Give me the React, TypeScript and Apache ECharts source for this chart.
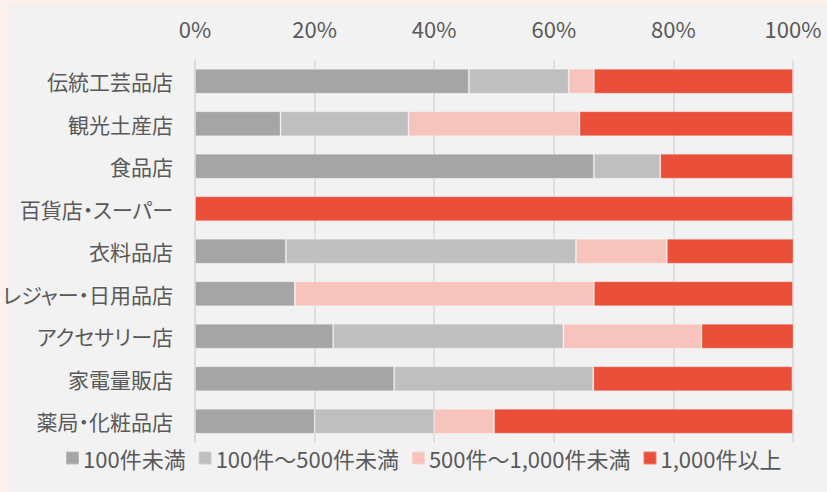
import React, { useEffect, useRef } from "react";
import * as echarts from "echarts";

const categories = [
  "伝統工芸品店",
  "観光土産店",
  "食品店",
  "百貨店・スーパー",
  "衣料品店",
  "レジャー・日用品店",
  "アクセサリー店",
  "家電量販店",
  "薬局・化粧品店",
];

const seriesNames = ["100件未満", "100件～500件未満", "500件～1,000件未満", "1,000件以上"];

const under100 = [45.8, 14.3, 66.7, 0, 15.2, 16.7, 23.1, 33.3, 20];
const from100to500 = [16.7, 21.4, 11.1, 0, 48.5, 0, 38.5, 33.3, 20];
const from500to1000 = [4.2, 28.6, 0, 0, 15.2, 50, 23.1, 0, 10];
const over1000 = [33.3, 35.7, 22.2, 100, 21.2, 33.3, 15.4, 33.3, 50];

const seriesColors = ["#a5a5a5", "#bfbfbf", "#f7c3bd", "#e94f39"];

const FONT = "'Noto Sans CJK JP', 'Noto Sans', sans-serif";
const TEXT = "#595959";

export default function App() {
  const ref = useRef<HTMLDivElement>(null);
  useEffect(() => {
    if (!ref.current) return;
    const chart = echarts.init(ref.current, undefined, { renderer: "svg" });
    const values = [under100, from100to500, from500to1000, over1000];
    chart.setOption({
      animation: false,
      backgroundColor: "#fdf1ec",
      textStyle: { fontFamily: FONT },
      graphic: [
        {
          type: "rect",
          z: -10,
          silent: true,
          shape: { x: 8, y: 5, width: 819, height: 487 },
          style: { fill: "#f2f2f2" },
        },
      ],
      grid: {
        left: 195,
        right: 34,
        top: 60,
        bottom: 49.5,
        containLabel: false,
        outerBoundsMode: "none",
      },
      xAxis: {
        type: "value",
        position: "top",
        min: 0,
        max: 100,
        interval: 20,
        axisLine: { show: false },
        axisTick: { show: false },
        axisLabel: {
          formatter: "{value}%",
          color: TEXT,
          fontSize: 22,
          fontFamily: FONT,
          margin: 21,
        },
        splitLine: { lineStyle: { color: "#d9d9d9", width: 1.5 } },
      },
      yAxis: {
        type: "category",
        inverse: true,
        data: categories,
        axisLine: { show: true, lineStyle: { color: "#d9d9d9", width: 1.5 } },
        axisTick: { show: false },
        axisLabel: { color: TEXT, fontSize: 21, fontFamily: FONT, margin: 22 },
      },
      legend: {
        left: 60,
        bottom: 18,
        icon: "rect",
        itemWidth: 13,
        itemHeight: 13,
        itemGap: 12,
        textStyle: { color: TEXT, fontSize: 22, fontFamily: FONT, padding: [0, 0, 0, -1] },
        data: seriesNames,
      },
      series: seriesNames.map((name, i) => ({
        name,
        type: "bar",
        stack: "total",
        barWidth: 25,
        data: values[i],
        itemStyle: { color: seriesColors[i], borderColor: "rgba(255,255,255,0.25)", borderWidth: 1 },
      })),
    });
    return () => chart.dispose();
  }, []);
  return (
    <>
      <style>{`#root svg text { font-feature-settings: "palt"; }`}</style>
      <div
        ref={ref}
        style={{ position: "fixed", left: 0, top: 0, width: 827, height: 492 }}
      />
    </>
  );
}
